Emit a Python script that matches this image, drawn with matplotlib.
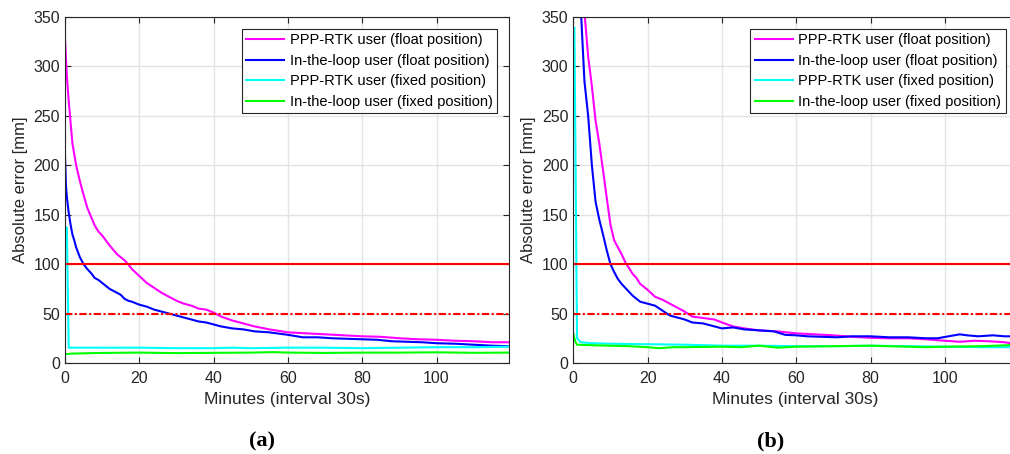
import matplotlib
matplotlib.use('Agg')
import matplotlib.pyplot as plt

plt.rcParams['font.family'] = ['Liberation Sans', 'DejaVu Sans']

# ---- panel (a) ----
ta_ppp_float = [0, 0.5, 1, 2, 3, 4, 5, 6, 7, 8, 9, 10, 11, 12, 14, 16, 17, 18, 20, 22,
                24, 26, 28, 30, 32, 34, 36, 38, 40, 42, 45, 48, 51, 55, 60, 65, 70, 75,
                80, 85, 90, 95, 100, 105, 110, 115, 119.5]
a_ppp_float = [328, 290, 265, 222, 200, 184, 170, 157, 148, 139, 133, 129, 124, 119, 110,
               104, 100, 95, 88, 81, 76, 71, 67, 63, 60, 58, 55, 54, 51, 47, 43, 40, 37,
               34, 31, 30, 29, 28, 27, 26.5, 25, 24, 23.5, 22.5, 22, 21, 21]

ta_loop_float = [0, 0.25, 0.5, 1, 1.5, 2, 2.5, 3, 4, 5, 6, 7, 8, 9, 10, 11, 12, 13, 14,
                 15, 16, 17, 18, 20, 22, 24, 26, 28, 30, 32, 34, 36, 38, 40, 42, 45, 48,
                 51, 55, 60, 64, 68, 72, 76, 80, 84, 88, 92, 96, 100, 105, 110, 115, 119.5]
a_loop_float = [209, 180, 168, 152, 140, 130, 124, 117, 107, 100, 95, 91, 86, 84, 81, 78,
                75, 73, 71, 69, 65, 63, 62, 59, 57, 54, 52, 50, 48, 46, 44, 42, 41, 39,
                37, 35, 34, 32, 31, 28.5, 26, 26, 25, 24.5, 24, 23.5, 22, 21.5, 21, 20,
                19.5, 18.5, 17.5, 17]

ta_ppp_fixed = [0.5, 1.0, 5, 10, 20, 30, 40, 45, 50, 60, 70, 80, 90, 100, 110, 119.5]
a_ppp_fixed = [137, 15.5, 15.5, 15.5, 15.5, 15, 15, 15.5, 15, 15.5, 15.5, 15, 15.5, 16,
               16, 16.5]

ta_loop_fixed = [0, 2, 5, 10, 20, 30, 40, 50, 56, 60, 70, 80, 90, 100, 110, 119.5]
a_loop_fixed = [9, 9.5, 9.8, 10.2, 10.5, 10, 10.3, 10.5, 11, 10.5, 10.2, 10.5, 10.5, 10.8,
                10.3, 10.5]

# ---- panel (b) ----
tb_ppp_float = [0, 1, 2, 3, 4, 5, 6, 7, 8, 9, 10, 11, 12, 13, 14, 15, 16, 17, 18, 20, 22,
                24, 26, 28, 30, 32, 34, 36, 38, 40, 43, 46, 50, 55, 60, 65, 70, 75, 80,
                85, 90, 95, 100, 104, 108, 112, 116, 119.5]
b_ppp_float = [850, 600, 450, 355, 310, 280, 245, 222, 195, 167, 140, 124, 117, 110, 102,
               96, 90, 86, 80, 74, 67, 64, 60, 56, 52, 47, 46, 45, 44, 41, 37, 35, 33, 32,
               30, 29, 28, 26.5, 25.5, 25, 25, 24, 22.5, 21.5, 22.5, 22, 21, 19]

tb_loop_float = [0, 1, 2, 3, 4, 5, 6, 7, 8, 9, 10, 11, 12, 13, 14, 15, 16, 17, 18, 20, 22,
                 24, 26, 28, 30, 32, 35, 38, 40, 43, 46, 50, 54, 57, 60, 63, 67, 71, 75,
                 80, 85, 90, 95, 98, 101, 104, 106, 109, 113, 116, 119.5]
b_loop_float = [800, 520, 360, 285, 250, 200, 163, 145, 130, 114, 100, 92, 85, 80, 76, 72,
                68, 65, 62, 60, 58, 53, 48, 46, 44, 41, 40, 37, 35, 36, 34, 33, 32, 28.5,
                28, 27, 26.5, 26, 27, 27, 26, 26, 25, 25, 27, 29, 28, 27, 28, 27, 27]

tb_ppp_fixed = [0.3, 1.0, 2, 5, 10, 20, 30, 40, 50, 60, 70, 80, 90, 100, 110, 119.5]
b_ppp_fixed = [339, 25, 21, 20, 19.5, 19, 18.5, 17.5, 17.5, 17, 17, 17.5, 17, 16.5, 16, 16]

tb_loop_fixed = [0, 0.5, 1, 5, 10, 15, 20, 23, 27, 30, 40, 45, 50, 55, 60, 70, 80, 90,
                 95, 100, 110, 117, 119.5]
b_loop_fixed = [30, 22, 18.5, 18, 17.5, 17, 16, 15, 16, 16, 16.5, 16, 17.5, 15.5, 16.5,
                17, 17.5, 16.5, 16, 16.5, 17, 18, 19]

labels = ['PPP-RTK user (float position)', 'In-the-loop user (float position)',
          'PPP-RTK user (fixed position)', 'In-the-loop user (fixed position)']
colors = ['#ff00ff', '#0000ff', '#00ffff', '#00ff00']
thresholds = [100, 50]

panels = [
    ([ta_ppp_float, ta_loop_float, ta_ppp_fixed, ta_loop_fixed],
     [a_ppp_float, a_loop_float, a_ppp_fixed, a_loop_fixed], '(a)'),
    ([tb_ppp_float, tb_loop_float, tb_ppp_fixed, tb_loop_fixed],
     [b_ppp_float, b_loop_float, b_ppp_fixed, b_loop_fixed], '(b)'),
]

W, H = 1010, 454
fig = plt.figure(figsize=(W / 100, H / 100), dpi=100)
lefts = [65, 573.3]

for i, (ts, ys, tag) in enumerate(panels):
    ax = fig.add_axes([lefts[i] / W, 1 - 363 / H, 444 / W, 346 / H])
    for t, y, lab, c in zip(ts, ys, labels, colors):
        ax.plot(t, y, color=c, lw=1.5, label=lab)
    ax.axhline(thresholds[0], color='#ff0000', lw=1.5)
    ax.axhline(thresholds[1], color='#ff0000', lw=1.5, linestyle=(0, (3.5, 1.2, 1, 1.2)))
    ax.set_xlim(0, 119.5)
    ax.set_ylim(0, 350)
    ax.set_xticks([0, 20, 40, 60, 80, 100])
    ax.set_yticks(range(0, 351, 50))
    ax.grid(True, color='#e3e3e3', lw=1)
    ax.set_axisbelow(True)
    ax.tick_params(direction='in', top=True, right=True, length=4, width=0.8,
                   labelsize=11.5, colors='#262626')
    ax.tick_params(axis='x', pad=6)
    for s in ax.spines.values():
        s.set_color('#262626')
        s.set_linewidth(0.8)
    ax.set_xlabel('Minutes (interval 30s)', fontsize=12.5, color='#262626', labelpad=4)
    ax.set_ylabel('Absolute error [mm]', fontsize=12, color='#262626', labelpad=4)
    leg = ax.legend(loc='upper right', fontsize=10.5, fancybox=False, framealpha=1,
                    edgecolor='#262626', handlelength=2.6, labelspacing=0.45,
                    borderaxespad=0.8, borderpad=0.3, handletextpad=0.4)
    leg.get_frame().set_linewidth(0.8)
    cx = lefts[i] + 197
    fig.text(cx / W, 1 - 441.7 / H, tag, ha='center', va='center', fontsize=16,
             fontweight='bold', family='Liberation Serif')

fig.savefig('out.png', dpi=100)
